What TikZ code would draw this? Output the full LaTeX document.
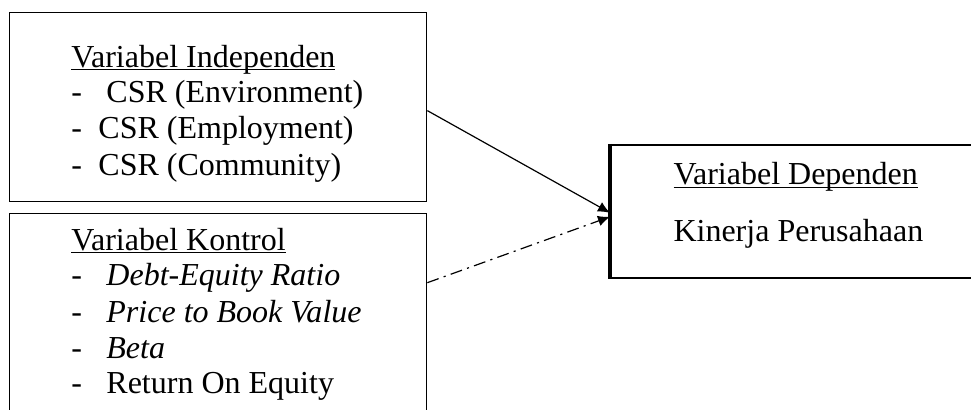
\documentclass[tikz,border=0pt]{standalone}
\usepackage{fontspec}
\setmainfont{Liberation Serif}
\usetikzlibrary{arrows.meta,positioning}
\newcommand{\uln}[1]{\setbox0\hbox{#1}\rlap{\rule[-1.3pt]{\wd0}{0.65pt}}\box0}
\newcommand{\itm}[2]{\makebox[#1][l]{-}#2}

\begin{document}
\begin{tikzpicture}[
  box/.style={draw, line width=0.5pt, anchor=north west, inner sep=0pt},
  txt/.style={anchor=base west, inner sep=0pt, font=\fontsize{12}{13.5}\selectfont},
  arr/.style={-{Latex[length=4.5pt,width=4pt]}, line width=0.45pt}]
  \useasboundingbox (0,0) rectangle (12.794,5.402);
  % ---------------- boxes
  \node[box, minimum width=5.494cm, minimum height=2.49cm] (indep) at (0.119,5.244) {};
  \node[box, minimum width=5.494cm, minimum height=3.0cm] (kontrol) at (0.119,2.596) {};
  \node[box, line width=0.7pt, minimum width=5.5cm, minimum height=1.753cm] (dep) at (8.037,3.505) {};
  \draw[line width=1.2pt] (dep.north west) -- (dep.south west);
  % ---------------- independen
  \node[txt] (ti) at (0.935,4.519) {\uln{Variabel Independen}};
  \foreach \n/\w/\t/\yy in {1/13.1pt/{CSR (Environment)}/4.045, 2/10.1pt/{CSR (Employment)}/3.571, 3/10.1pt/{CSR (Community)}/3.096}{
    \node[txt] (i\n) at (0.935,\yy) {\itm{\w}{\t}};}
  % ---------------- kontrol
  \node[txt] (tk) at (0.935,2.108) {\uln{Variabel Kontrol}};
  \foreach \n/\t/\yy in {1/{\itshape Debt-Equity Ratio}/1.634, 2/{\itshape Price to Book Value}/1.159, 3/{\itshape Beta}/0.685, 4/{Return On Equity}/0.211}{
    \node[txt] (k\n) at (0.935,\yy) {\itm{13.1pt}{\t}};}
  % ---------------- dependen
  \node[txt] (td) at (8.867,2.965) {\uln{Variabel Dependen}};
  \node[txt] (kp) at (8.867,2.214) {Kinerja Perusahaan};
  % ---------------- arrows
  \coordinate (kout) at ([yshift=0.59cm]kontrol.east);
  \draw[arr] ([yshift=-1.3pt]indep.east) -- ([yshift=-0.5pt]dep.west);
  \draw[arr, dash pattern=on 4.5pt off 2pt on 0.8pt off 2pt] (kout) -- ([yshift=-2pt]dep.west);
\end{tikzpicture}
\end{document}
